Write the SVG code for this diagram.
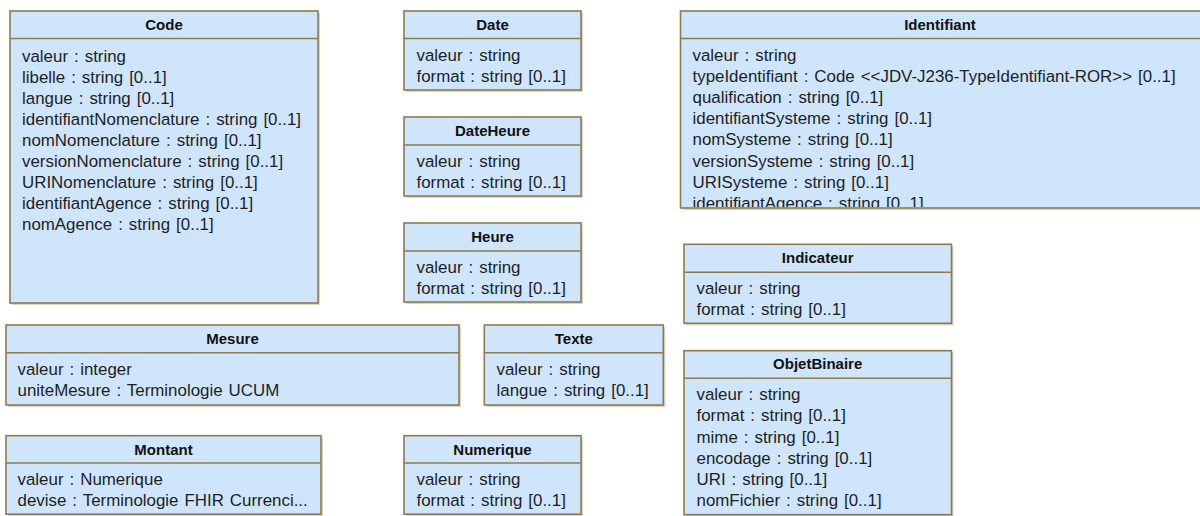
<svg xmlns="http://www.w3.org/2000/svg" width="1200" height="516" viewBox="0 0 1200 516">
<style>
.sh{fill:#d9d4c6;}
.box{fill:#cfe5fc;stroke:#8c7b50;stroke-width:1.6;}
.sep{stroke:#8c7b50;stroke-width:1.4;}
.t{font-family:"Liberation Sans",Arial,sans-serif;font-size:15px;font-weight:bold;fill:#111;text-anchor:middle;}
.a{font-family:"Liberation Sans",Arial,sans-serif;font-size:16.9px;word-spacing:1.3px;fill:#1e1e1e;}
</style>
<defs>
<clipPath id="clipId"><rect x="681" y="39" width="520" height="168"/></clipPath>
</defs>
<rect width="1200" height="516" fill="#ffffff"/>
<g id="connectors"/>

<g id="Code">
<rect class="sh" x="12" y="13" width="308" height="292"/>
<rect class="box" x="10" y="11" width="308" height="292"/>
<line class="sep" x1="10" y1="38.5" x2="318" y2="38.5"/>
<text class="t" x="164" y="29.5">Code</text>
<text class="a" x="22" y="61.5">valeur : string</text>
<text class="a" x="22" y="82.6">libelle : string [0..1]</text>
<text class="a" x="22" y="103.7">langue : string [0..1]</text>
<text class="a" x="22" y="124.8">identifiantNomenclature : string [0..1]</text>
<text class="a" x="22" y="145.9">nomNomenclature : string [0..1]</text>
<text class="a" x="22" y="167">versionNomenclature : string [0..1]</text>
<text class="a" x="22" y="188.1">URINomenclature : string [0..1]</text>
<text class="a" x="22" y="209.2">identifiantAgence : string [0..1]</text>
<text class="a" x="22" y="230.3">nomAgence : string [0..1]</text>
</g>

<g id="Date">
<rect class="sh" x="406" y="13" width="177" height="79"/>
<rect class="box" x="404" y="11" width="177" height="79"/>
<line class="sep" x1="404" y1="38.5" x2="581" y2="38.5"/>
<text class="t" x="492.5" y="29.5">Date</text>
<text class="a" x="416.5" y="61">valeur : string</text>
<text class="a" x="416.5" y="82.1">format : string [0..1]</text>
</g>

<g id="DateHeure">
<rect class="sh" x="406" y="119" width="177" height="79"/>
<rect class="box" x="404" y="117" width="177" height="79"/>
<line class="sep" x1="404" y1="145" x2="581" y2="145"/>
<text class="t" x="492.5" y="135.7">DateHeure</text>
<text class="a" x="416.5" y="167">valeur : string</text>
<text class="a" x="416.5" y="188.1">format : string [0..1]</text>
</g>

<g id="Heure">
<rect class="sh" x="406" y="225" width="177" height="79"/>
<rect class="box" x="404" y="223" width="177" height="79"/>
<line class="sep" x1="404" y1="251" x2="581" y2="251"/>
<text class="t" x="492.5" y="241.7">Heure</text>
<text class="a" x="416.5" y="273">valeur : string</text>
<text class="a" x="416.5" y="294.1">format : string [0..1]</text>
</g>

<g id="Identifiant">
<rect class="sh" x="682.5" y="13" width="530" height="197"/>
<rect class="box" x="680.5" y="11" width="530" height="197"/>
<line class="sep" x1="680.5" y1="38.5" x2="1210" y2="38.5"/>
<text class="t" x="940" y="29.5">Identifiant</text>
<g clip-path="url(#clipId)">
<text class="a" x="692.5" y="61">valeur : string</text>
<text class="a" x="692.5" y="82.1">typeIdentifiant : Code &lt;&lt;JDV-J236-TypeIdentifiant-ROR&gt;&gt; [0..1]</text>
<text class="a" x="692.5" y="103.2">qualification : string [0..1]</text>
<text class="a" x="692.5" y="124.3">identifiantSysteme : string [0..1]</text>
<text class="a" x="692.5" y="145.4">nomSysteme : string [0..1]</text>
<text class="a" x="692.5" y="166.5">versionSysteme : string [0..1]</text>
<text class="a" x="692.5" y="187.6">URISysteme : string [0..1]</text>
<text class="a" x="692.5" y="208.7">identifiantAgence : string [0..1]</text>
</g>
</g>

<g id="Indicateur">
<rect class="sh" x="686" y="246.3" width="267.5" height="79"/>
<rect class="box" x="684" y="244.3" width="267.5" height="79"/>
<line class="sep" x1="684" y1="272.3" x2="951.5" y2="272.3"/>
<text class="t" x="817.7" y="263">Indicateur</text>
<text class="a" x="696.5" y="294.3">valeur : string</text>
<text class="a" x="696.5" y="315.4">format : string [0..1]</text>
</g>

<g id="ObjetBinaire">
<rect class="sh" x="686" y="352.7" width="267.5" height="164"/>
<rect class="box" x="684" y="350.7" width="267.5" height="164"/>
<line class="sep" x1="684" y1="378.3" x2="951.5" y2="378.3"/>
<text class="t" x="817.7" y="369.3">ObjetBinaire</text>
<text class="a" x="696.5" y="400.3">valeur : string</text>
<text class="a" x="696.5" y="421.4">format : string [0..1]</text>
<text class="a" x="696.5" y="442.5">mime : string [0..1]</text>
<text class="a" x="696.5" y="463.6">encodage : string [0..1]</text>
<text class="a" x="696.5" y="484.7">URI : string [0..1]</text>
<text class="a" x="696.5" y="505.8">nomFichier : string [0..1]</text>
</g>

<g id="Mesure">
<rect class="sh" x="8" y="327" width="453" height="80"/>
<rect class="box" x="6" y="325" width="453" height="80"/>
<line class="sep" x1="6" y1="352.7" x2="459" y2="352.7"/>
<text class="t" x="232.5" y="344">Mesure</text>
<text class="a" x="17.5" y="375">valeur : integer</text>
<text class="a" x="17.5" y="396.1">uniteMesure : Terminologie UCUM</text>
</g>

<g id="Texte">
<rect class="sh" x="486.3" y="327" width="179" height="80"/>
<rect class="box" x="484.3" y="325" width="179" height="80"/>
<line class="sep" x1="484.3" y1="352.7" x2="663.3" y2="352.7"/>
<text class="t" x="573.8" y="344">Texte</text>
<text class="a" x="496.5" y="375">valeur : string</text>
<text class="a" x="496.5" y="396.1">langue : string [0..1]</text>
</g>

<g id="Montant">
<rect class="sh" x="8" y="437.7" width="315" height="78.5"/>
<rect class="box" x="6" y="435.7" width="315" height="78.5"/>
<line class="sep" x1="6" y1="463" x2="321" y2="463"/>
<text class="t" x="163.5" y="454.5">Montant</text>
<text class="a" x="17.5" y="485.3">valeur : Numerique</text>
<text class="a" x="17.5" y="506.4">devise : Terminologie FHIR Currenci...</text>
</g>

<g id="Numerique">
<rect class="sh" x="406" y="437.7" width="177" height="78.5"/>
<rect class="box" x="404" y="435.7" width="177" height="78.5"/>
<line class="sep" x1="404" y1="463" x2="581" y2="463"/>
<text class="t" x="492.5" y="454.5">Numerique</text>
<text class="a" x="416.5" y="485.3">valeur : string</text>
<text class="a" x="416.5" y="506.4">format : string [0..1]</text>
</g>
</svg>
